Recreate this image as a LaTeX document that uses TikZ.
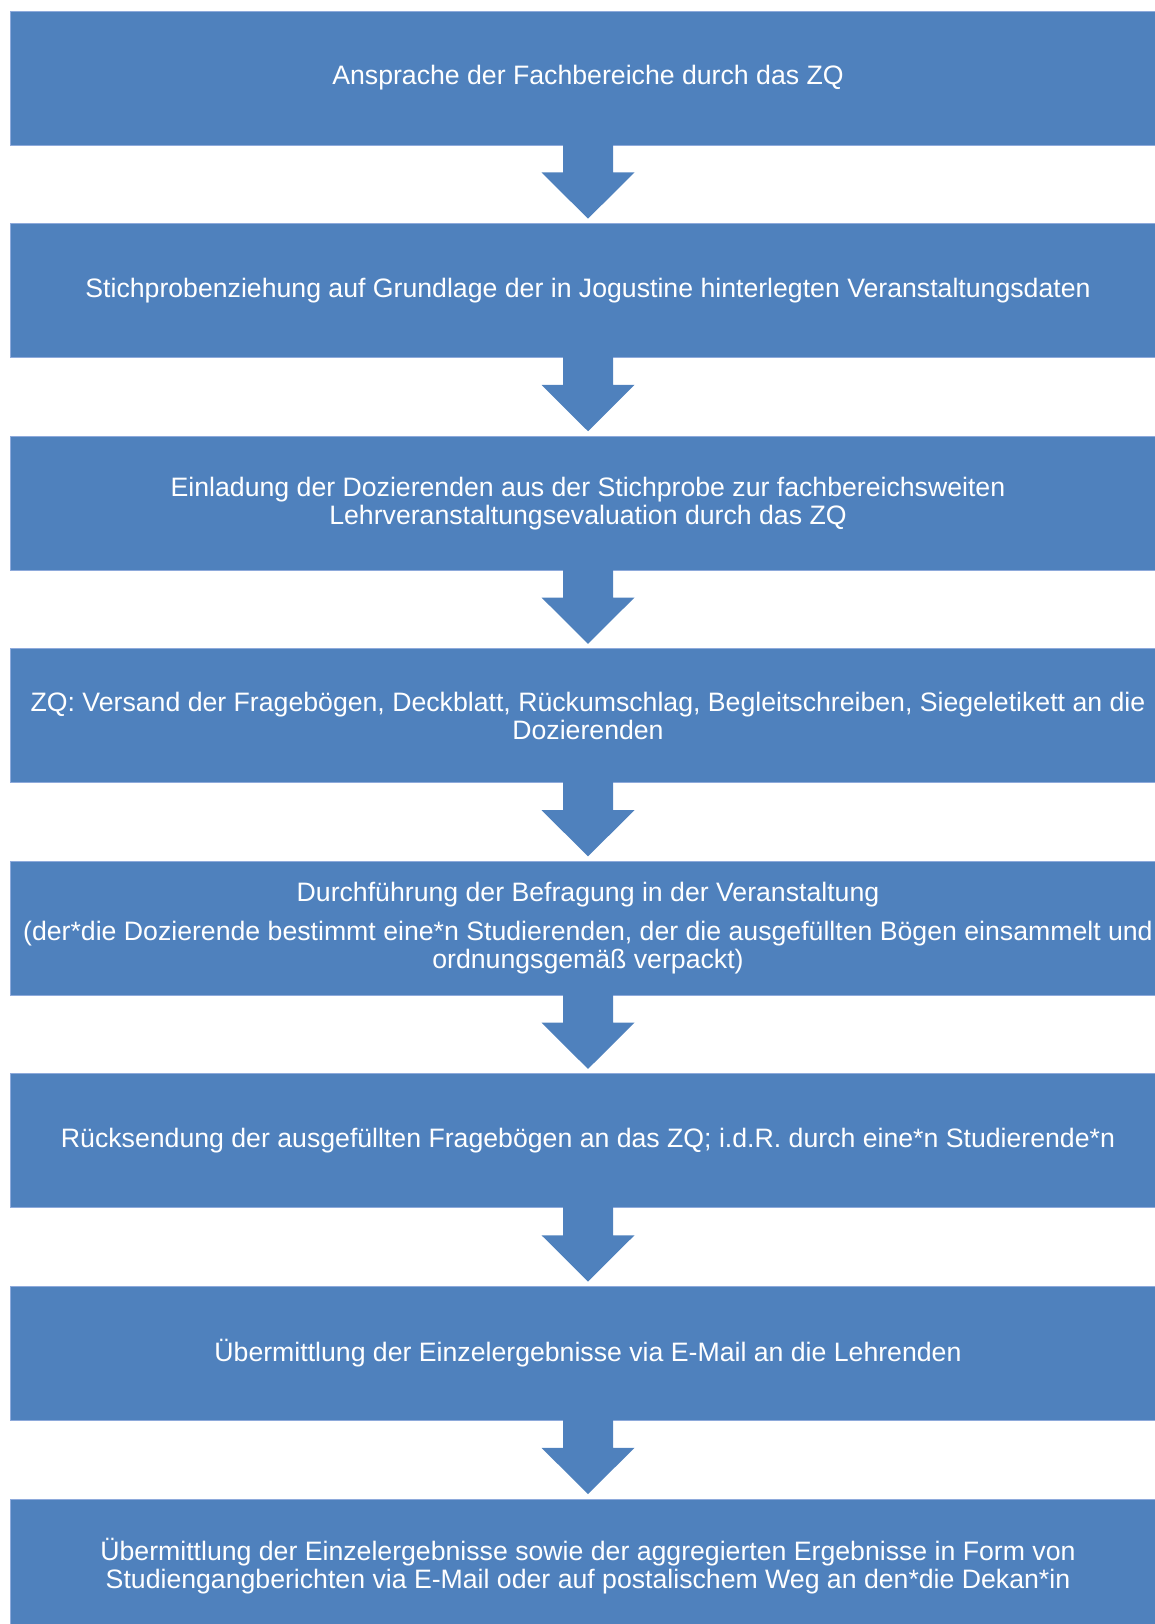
\documentclass[tikz,border=0pt]{standalone}
\usepackage{fontspec}
\setmainfont{Liberation Sans}
\usetikzlibrary{positioning,calc}
\definecolor{boxblue}{HTML}{4F81BD}
\definecolor{boxedge}{HTML}{8EAADB}
\begin{document}
\begin{tikzpicture}[x=0.75pt,y=-0.75pt,
   stepbox/.style={rectangle,fill=boxblue,draw=boxedge,line width=0.6pt,
     minimum width=867pt,minimum height=100.5pt,inner sep=0pt,
     align=center,text=white,font=\fontsize{20}{21}\selectfont}]
  \useasboundingbox (0,0) rectangle (1155,1624);
  % Steps
  \foreach \i/\lab in {0/{Ansprache der Fachbereiche durch das ZQ},
    1/{Stichprobenziehung auf Grundlage der in Jogustine hinterlegten Veranstaltungsdaten},
    2/{Einladung der Dozierenden aus der Stichprobe zur fachbereichsweiten\\Lehrveranstaltungsevaluation durch das ZQ},
    3/{ZQ: Versand der Fragebögen, Deckblatt, Rückumschlag, Begleitschreiben, Siegeletikett an die\\Dozierenden},
    4/{Durchführung der Befragung in der Veranstaltung\\[8.25pt](der*die Dozierende bestimmt eine*n Studierenden, der die ausgefüllten Bögen einsammelt und\\ordnungsgemäß verpackt)},
    5/{Rücksendung der ausgefüllten Fragebögen an das ZQ; i.d.R. durch eine*n Studierende*n},
    6/{Übermittlung der Einzelergebnisse via E-Mail an die Lehrenden},
    7/{Übermittlung der Einzelergebnisse sowie der aggregierten Ergebnisse in Form von\\Studiengangberichten via E-Mail oder auf postalischem Weg an den*die Dekan*in}}{
    \node[stepbox] (s\i) at (588,{78+212.57*\i}) {\lab};}
  % Block arrows
  \foreach \j [count=\i from 0] in {1,...,7}{
    \fill[boxblue] ($(s\i.south)+(-25,-2)$) -- ++(0,29) -- ++(-21.5,0)
      -- ($(s\j.north)+(0,-4.5)$) -- ($(s\i.south)+(46.5,27)$) -- ++(-21.5,0)
      -- ++(0,-29) -- cycle;}
\end{tikzpicture}
\end{document}
